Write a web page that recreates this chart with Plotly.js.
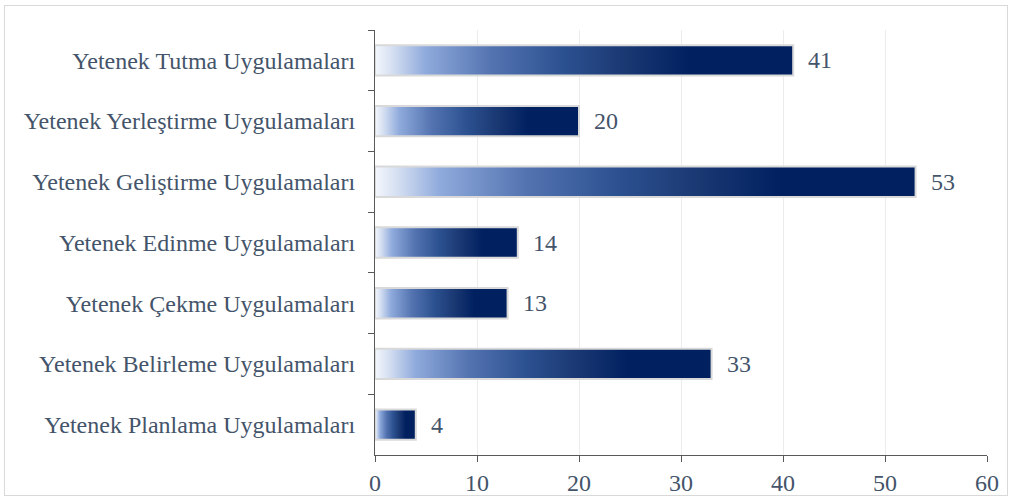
<!DOCTYPE html>
<html><head><meta charset="utf-8">
<script src="https://cdn.plot.ly/plotly-3.0.1.min.js"></script>
<style>
html,body{margin:0;padding:0;background:#fff;}
#wrap{position:relative;width:1011px;height:500px;}
#chart{width:1011px;height:500px;}
#frame{position:absolute;left:4px;top:5px;width:1004px;height:491px;border:1px solid #d9d9d9;pointer-events:none;box-sizing:border-box;}
</style></head>
<body>
<div id="wrap"><div id="chart"></div><div id="frame"></div></div>
<script>
const categories = [
  "Yetenek Tutma Uygulamaları",
  "Yetenek Yerleştirme Uygulamaları",
  "Yetenek Geliştirme Uygulamaları",
  "Yetenek Edinme Uygulamaları",
  "Yetenek Çekme Uygulamaları",
  "Yetenek Belirleme Uygulamaları",
  "Yetenek Planlama Uygulamaları"
];
const values = [41, 20, 53, 14, 13, 33, 4];
const xTicks = [0, 10, 20, 30, 40, 50, 60];

const textColor = "#44546A";
const font = {family: "'Liberation Serif', 'Times New Roman', serif", size: 24, color: textColor};

const trace = {
  type: "bar",
  orientation: "h",
  x: values,
  y: categories,
  width: 0.5,
  marker: {color: "#1f3f7f", line: {color: "#d9d9d9", width: 2}},
  hoverinfo: "none"
};

const annotations = values.map((v, i) => ({
  x: v, y: categories[i], xref: "x", yref: "y",
  text: String(v), showarrow: false, xanchor: "left", xshift: 13,
  font: font
}));

const layout = {
  width: 1011, height: 500,
  margin: {l: 375, r: 24, t: 30, b: 45},
  paper_bgcolor: "#fff", plot_bgcolor: "#fff",
  showlegend: false,
  font: font,
  xaxis: {
    range: [0, 60], tickvals: xTicks, ticktext: xTicks.map(String),
    showgrid: true, gridcolor: "#ececec", gridwidth: 1,
    zeroline: false, showline: true, linecolor: "#595959", linewidth: 1,
    ticks: "outside", ticklen: 6, tickcolor: "#595959",
    tickfont: font, fixedrange: true
  },
  yaxis: {
    type: "category", autorange: "reversed",
    showgrid: false, zeroline: false,
    showline: true, linecolor: "#595959", linewidth: 1,
    ticks: "outside", tickson: "boundaries", ticklen: 6, tickcolor: "#595959",
    tickfont: font, ticklabelstandoff: 14, fixedrange: true
  },
  annotations: annotations
};

Plotly.newPlot("chart", [trace], layout, {staticPlot: true, displayModeBar: false}).then(gd => {
  const svg = gd.querySelector("svg.main-svg");
  const ns = "http://www.w3.org/2000/svg";
  let defs = svg.querySelector("defs");
  if (!defs) { defs = document.createElementNS(ns, "defs"); svg.insertBefore(defs, svg.firstChild); }
  const g = document.createElementNS(ns, "linearGradient");
  g.setAttribute("id", "barGrad");
  g.setAttribute("x1", "0"); g.setAttribute("y1", "0");
  g.setAttribute("x2", "1"); g.setAttribute("y2", "0");
  const stops = [[0, "#f4f7fc"], [0.04, "#d6e0f2"], [0.12, "#8faadc"], [0.28, "#5373b0"], [0.45, "#2c5190"], [0.6, "#1a3872"], [0.75, "#002060"], [1, "#002060"]];
  stops.forEach(([o, c]) => {
    const s = document.createElementNS(ns, "stop");
    s.setAttribute("offset", o); s.setAttribute("stop-color", c);
    g.appendChild(s);
  });
  defs.appendChild(g);
  gd.querySelectorAll("g.trace.bars g.point path").forEach(p => {
    p.style.fill = "url(#barGrad)";
  });
});
</script>
</body></html>
